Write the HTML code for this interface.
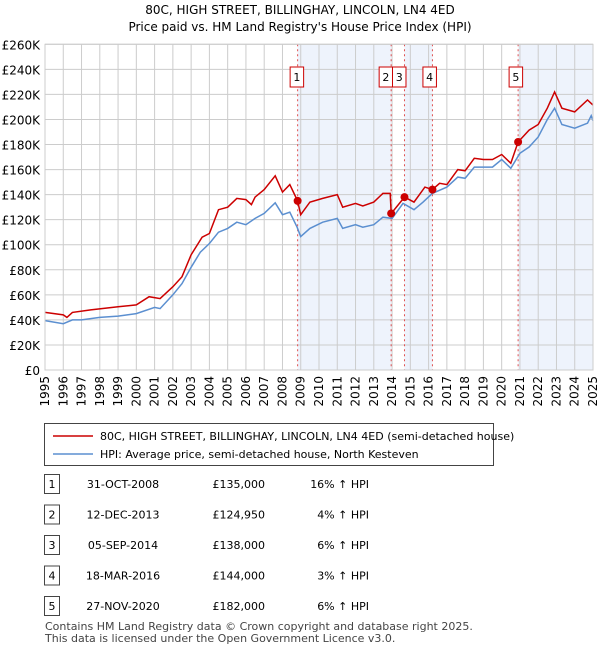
<!DOCTYPE html>
<html><head><meta charset="utf-8"><style>
body{margin:0;width:600px;height:650px;background:#fff;font-family:"Liberation Sans","DejaVu Sans",sans-serif;color:#222;overflow:hidden}
svg text{font-family:"DejaVu Sans","Liberation Sans",sans-serif}
</style></head><body>
<svg id="c" width="600" height="650"></svg>
<script>
const yTicks=[0,20,40,60,80,100,120,140,160,180,200,220,240,260];
const xYears=[1995,1996,1997,1998,1999,2000,2001,2002,2003,2004,2005,2006,2007,2008,2009,2010,2011,2012,2013,2014,2015,2016,2017,2018,2019,2020,2021,2022,2023,2024,2025];
const hpiT=[1995,1996,1996.5,1997,1998,1999,1999.5,2000,2001,2001.3,2002,2002.5,2003,2003.5,2004,2004.5,2005,2005.5,2006,2006.5,2007,2007.6,2008,2008.4,2008.8,2009,2009.5,2010.2,2011,2011.3,2012,2012.4,2013,2013.5,2014,2014.6,2015.2,2015.7,2016.2,2017,2017.6,2018,2018.5,2019.5,2020,2020.5,2021,2021.5,2022,2022.5,2022.9,2023.3,2024,2024.7,2024.9,2025];
const hpiV=[39.4,37,40,40,42,43,44,45,50,49,60,69,82,94,101,110,113,118,116,121,125,133.5,124,126,114,106.5,113,118,121,113,116,114,116,122,121,133,128,134,141,146,154,153,162,162,168,161,173,178,186,200,209,196,193,197,203,199];
const priceT=[1995,1996,1996.2,1996.5,1997.5,1999,2000,2000.7,2001.3,2002,2002.5,2003,2003.6,2004,2004.5,2005,2005.5,2006,2006.3,2006.5,2007,2007.6,2008,2008.4,2008.83,2009,2009.5,2010.2,2011,2011.3,2012,2012.4,2013,2013.5,2013.9,2013.95,2014.68,2015.2,2015.8,2016.21,2016.6,2017,2017.6,2018,2018.5,2019,2019.5,2020,2020.5,2020.9,2021.5,2022,2022.5,2022.9,2023.3,2024,2024.7,2025];
const priceV=[46,44,42,46,48,50.5,52,58.5,57,66.5,74.5,92,106,109,128,130,137,136,132,138,144,155,142,148,135,124,134,137,140,130,133,131,134,141,141,124.95,138,134,146,144,149,148,160,159,169,168,168,172,165,182,191.5,196,209,222,209,206,215.5,211.5];
const saleLabels=["1","2","3","4","5"];
const saleT=[2008.83,2013.95,2014.68,2016.21,2020.9];
const saleV=[135,124.95,138,144,182];
const saleDates=["31-OCT-2008","12-DEC-2013","05-SEP-2014","18-MAR-2016","27-NOV-2020"];
const salePrices=["£135,000","£124,950","£138,000","£144,000","£182,000"];
const saleHpi=["16% ↑ HPI","4% ↑ HPI","6% ↑ HPI","3% ↑ HPI","6% ↑ HPI"];

const NS="http://www.w3.org/2000/svg",svg=document.getElementById('c');
const X0=45,X1=593,Y0=370,Y1=44.3;
const x=t=>X0+(t-1995)/30*(X1-X0);
const y=v=>Y0-v/260*(Y0-Y1);
const boxOff=[-7.5,-12,-12,-9.5,-9];
function mk(tag,a,txt){const e=document.createElementNS(NS,tag);for(const k in a)e.setAttribute(k,a[k]);if(txt!=null)e.textContent=txt;svg.appendChild(e);return e;}
let e;
e=mk('text',{x:300,y:14,'text-anchor':'middle','font-size':12},"80C, HIGH STREET, BILLINGHAY, LINCOLN, LN4 4ED");


e=mk('text',{x:300,y:31,'text-anchor':'middle','font-size':12},"Price paid vs. HM Land Registry's House Price Index (HPI)");


[[0,1],[2,3]].forEach(p=>{e=mk('rect',{x:x(saleT[p[0]]),y:Y1,width:x(saleT[p[1]])-x(saleT[p[0]]),height:Y0-Y1,fill:'#eef3fc'});

});
e=mk('rect',{x:x(saleT[4]),y:Y1,width:X1-x(saleT[4]),height:Y0-Y1,fill:'#eef3fc'});


yTicks.forEach(v=>{e=mk('line',{x1:X0,x2:X1,y1:y(v),y2:y(v),stroke:'#ccc','stroke-width':1});


e=mk('text',{x:40,y:y(v)+5,'text-anchor':'end','font-size':12},v===0?'£0':'£'+v+'K');

});
xYears.forEach(t=>{e=mk('line',{x1:x(t),x2:x(t),y1:Y1,y2:Y0,stroke:'#ccc','stroke-width':1});


e=mk('text',{x:0,y:0,'font-size':12,'text-anchor':'end',transform:`translate(${x(t)+4},376) rotate(-90)`},String(t));

});
saleT.forEach((t,i)=>{e=mk('line',{x1:x(t),x2:x(t),y1:Y1,y2:Y0,stroke:'#e05050','stroke-width':1,'stroke-dasharray':'2,3'});


const bx=x(t)+boxOff[i];
e=mk('rect',{x:bx,y:67,width:13.5,height:20,fill:'#fff',stroke:'#c00','stroke-width':1});


e=mk('text',{x:bx+6.75,y:81,'text-anchor':'middle','font-size':11},saleLabels[i]);

});
const path=(T,V)=>T.map((t,i)=>(i?'L':'M')+x(t).toFixed(1)+','+y(V[i]).toFixed(1)).join('');
e=mk('path',{d:path(hpiT,hpiV),fill:'none',stroke:'#5b8fd0','stroke-width':1.5});


e=mk('path',{d:path(priceT,priceV),fill:'none',stroke:'#cc0000','stroke-width':1.5});


saleT.forEach((t,i)=>{e=mk('circle',{cx:x(t),cy:y(saleV[i]),r:4,fill:'#cc0000'});

});
e=mk('rect',{x:X0,y:Y1,width:X1-X0,height:Y0-Y1,fill:'none',stroke:'#ccc'});


e=mk('rect',{x:44.5,y:423.5,width:449,height:42,fill:'#fff',stroke:'#444'});


e=mk('line',{x1:53,x2:93,y1:436,y2:436,stroke:'#cc0000','stroke-width':1.5});


e=mk('text',{x:100,y:440,'font-size':11},"80C, HIGH STREET, BILLINGHAY, LINCOLN, LN4 4ED (semi-detached house)");


e=mk('line',{x1:53,x2:93,y1:454,y2:454,stroke:'#5b8fd0','stroke-width':1.5});


e=mk('text',{x:100,y:458,'font-size':11},"HPI: Average price, semi-detached house, North Kesteven");


saleLabels.forEach((l,i)=>{const ry=484+i*30.5;
e=mk('rect',{x:44.5,y:ry-9.5,width:15,height:19,fill:'#fff',stroke:'#444'});


e=mk('text',{x:52,y:ry+4,'text-anchor':'middle','font-size':11},l);


e=mk('text',{x:123,y:ry+4,'text-anchor':'middle','font-size':11},saleDates[i]);


e=mk('text',{x:265,y:ry+4,'text-anchor':'end','font-size':11},salePrices[i]);


e=mk('text',{x:369,y:ry+4,'text-anchor':'end','font-size':11},saleHpi[i]);

});
e=mk('text',{x:45,y:630,'font-size':11,fill:'#444'},"Contains HM Land Registry data © Crown copyright and database right 2025.");


e=mk('text',{x:45,y:642,'font-size':11,fill:'#444'},"This data is licensed under the Open Government Licence v3.0.");


</script>
</body></html>
